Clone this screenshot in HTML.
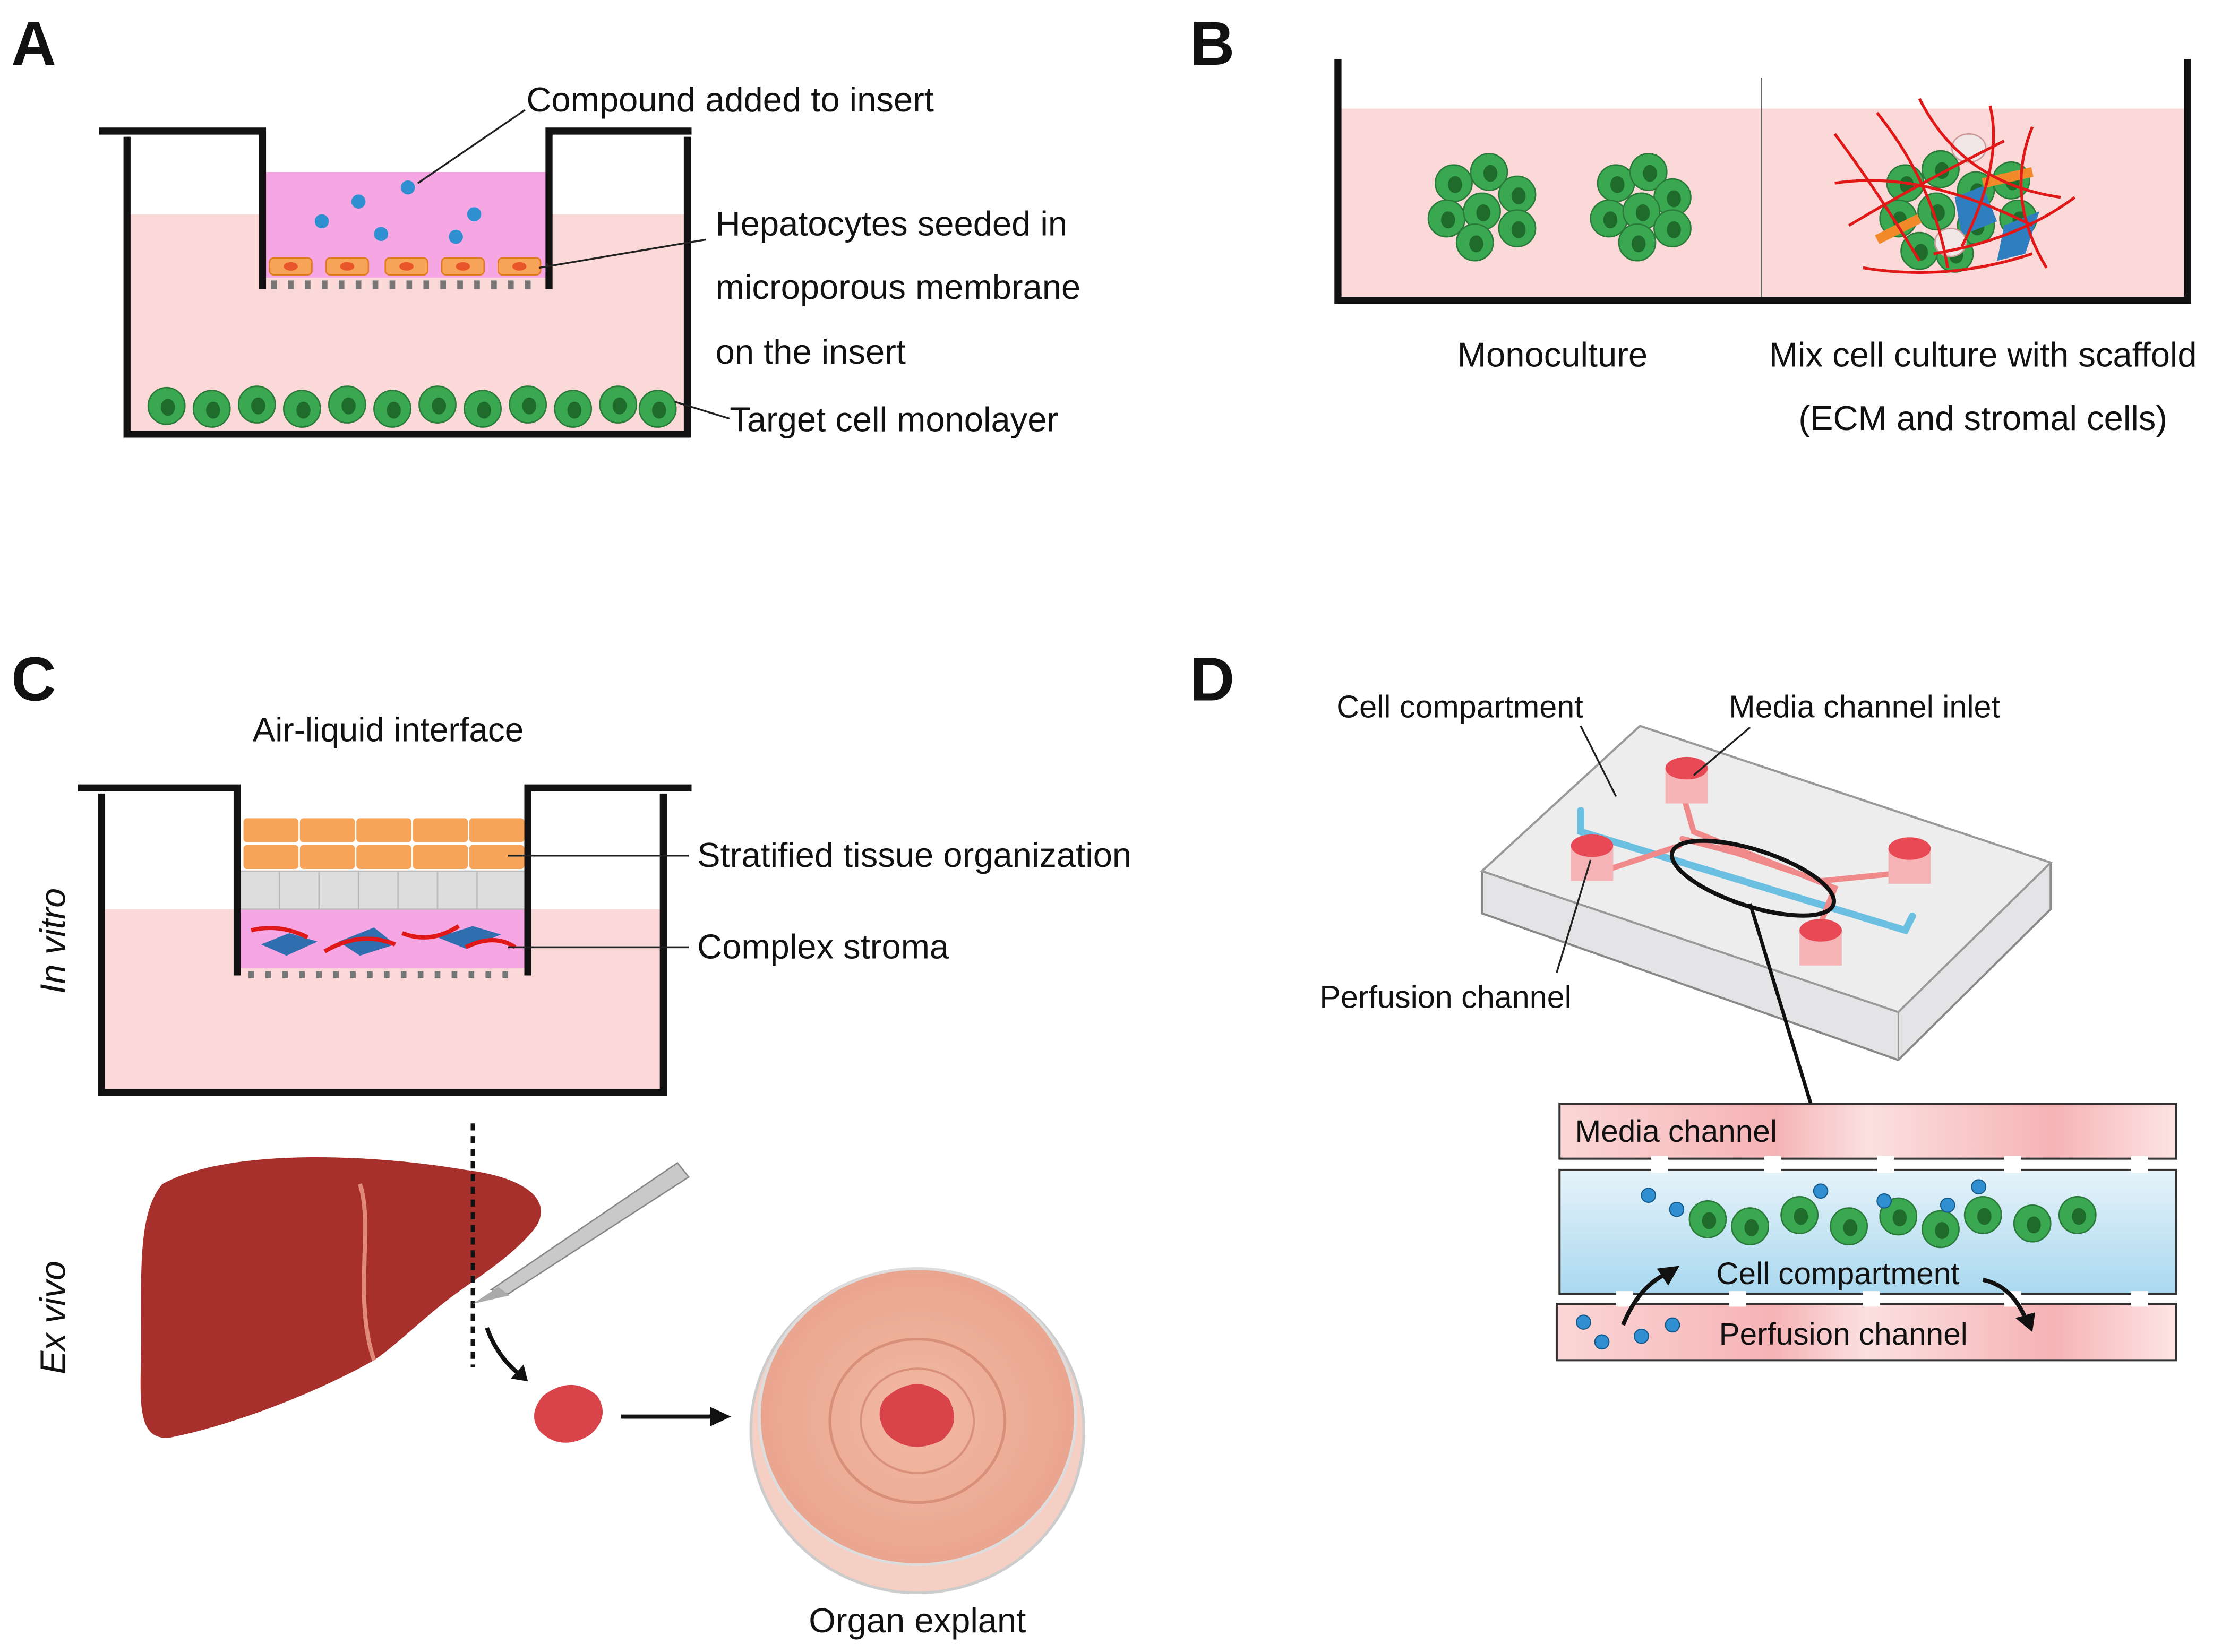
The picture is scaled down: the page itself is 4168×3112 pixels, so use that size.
<!DOCTYPE html>
<html><head><meta charset="utf-8"><style>
html,body{margin:0;padding:0;background:#fff;}
svg{display:block;}
text{font-family:"Liberation Sans",Arial,sans-serif;fill:#111;}
</style></head><body>
<svg width="4168" height="3112" viewBox="0 0 1568 1172" preserveAspectRatio="none" xmlns="http://www.w3.org/2000/svg">
<defs>
<g id="gc"><circle r="13" fill="#3aa851"/><circle r="13" fill="none" stroke="#2a7a3a" stroke-width="1"/><ellipse cx="1" cy="1" rx="5" ry="6" fill="#1f6b2c"/></g>
<g id="oc"><rect x="-15" y="-6" width="30" height="12" rx="3" fill="#f7a458" stroke="#e07a20" stroke-width="1"/><ellipse rx="5" ry="3" fill="#e8552a"/></g>
<linearGradient id="mg" x1="0" x2="1"><stop offset="0" stop-color="#fbd6d6"/><stop offset="0.35" stop-color="#f6b3b6"/><stop offset="0.5" stop-color="#fbe0e0"/><stop offset="0.8" stop-color="#f6b3b6"/><stop offset="1" stop-color="#fde4e4"/></linearGradient>
<linearGradient id="bg" x1="0" y1="0" x2="0" y2="1"><stop offset="0" stop-color="#e6f3fa"/><stop offset="1" stop-color="#a9d8ef"/></linearGradient>
<radialGradient id="dish"><stop offset="0" stop-color="#f2b9a4"/><stop offset="1" stop-color="#eaa58f"/></radialGradient>
</defs>

<text x="8" y="46" font-size="44" font-weight="bold">A</text>
<text x="843" y="46" font-size="44" font-weight="bold">B</text>
<text x="8" y="497" font-size="44" font-weight="bold">C</text>
<text x="843" y="497" font-size="44" font-weight="bold">D</text>

<!-- Panel A -->
<rect x="92" y="152" width="394" height="155" fill="#fcd9d9"/>
<rect x="187" y="122" width="202" height="75" fill="#f6a6e3"/>
<g fill="#777"><rect x="192" y="199" width="4" height="6"/><rect x="204" y="199" width="4" height="6"/><rect x="216" y="199" width="4" height="6"/><rect x="228" y="199" width="4" height="6"/><rect x="240" y="199" width="4" height="6"/><rect x="252" y="199" width="4" height="6"/><rect x="264" y="199" width="4" height="6"/><rect x="276" y="199" width="4" height="6"/><rect x="288" y="199" width="4" height="6"/><rect x="300" y="199" width="4" height="6"/><rect x="312" y="199" width="4" height="6"/><rect x="324" y="199" width="4" height="6"/><rect x="336" y="199" width="4" height="6"/><rect x="348" y="199" width="4" height="6"/><rect x="360" y="199" width="4" height="6"/><rect x="372" y="199" width="4" height="6"/></g>
<use href="#oc" x="206" y="189"/><use href="#oc" x="246" y="189"/><use href="#oc" x="288" y="189"/><use href="#oc" x="328" y="189"/><use href="#oc" x="368" y="189"/>
<g fill="#2f8fd0"><circle cx="254" cy="143" r="5"/><circle cx="289" cy="133" r="5"/><circle cx="228" cy="157" r="5"/><circle cx="270" cy="166" r="5"/><circle cx="323" cy="168" r="5"/><circle cx="336" cy="152" r="5"/></g>
<g><use href="#gc" x="118" y="288"/><use href="#gc" x="150" y="290"/><use href="#gc" x="182" y="287"/><use href="#gc" x="214" y="290"/><use href="#gc" x="246" y="287"/><use href="#gc" x="278" y="290"/><use href="#gc" x="310" y="287"/><use href="#gc" x="342" y="290"/><use href="#gc" x="374" y="287"/><use href="#gc" x="406" y="290"/><use href="#gc" x="438" y="287"/><use href="#gc" x="466" y="290"/></g>
<g fill="none" stroke="#111" stroke-width="5">
<polyline points="70,93 186,93 186,205"/><polyline points="389,205 389,93 490,93"/>
<polyline points="90,97 90,308 487,308 487,97"/>
</g>
<g stroke="#222" stroke-width="1.3"><line x1="372" y1="78" x2="296" y2="130"/><line x1="500" y1="170" x2="382" y2="190"/><line x1="517" y1="297" x2="478" y2="285"/></g>
<g font-size="24.5"><text x="373" y="79">Compound added to insert</text><text x="507" y="167">Hepatocytes seeded in</text><text x="507" y="212">microporous membrane</text><text x="507" y="258">on the insert</text><text x="517" y="306">Target cell monolayer</text></g>

<!-- Panel B -->
<rect x="950" y="77" width="598" height="134" fill="#fcd9d9"/>
<line x1="1248" y1="55" x2="1248" y2="211" stroke="#666" stroke-width="1"/>
<g><use href="#gc" x="1030" y="130"/><use href="#gc" x="1055" y="122"/><use href="#gc" x="1075" y="138"/><use href="#gc" x="1025" y="155"/><use href="#gc" x="1050" y="150"/><use href="#gc" x="1075" y="162"/><use href="#gc" x="1045" y="172"/>
<use href="#gc" x="1145" y="130"/><use href="#gc" x="1168" y="122"/><use href="#gc" x="1185" y="140"/><use href="#gc" x="1140" y="155"/><use href="#gc" x="1163" y="150"/><use href="#gc" x="1185" y="162"/><use href="#gc" x="1160" y="172"/></g>
<g><use href="#gc" x="1350" y="130"/><use href="#gc" x="1375" y="120"/><use href="#gc" x="1400" y="135"/><use href="#gc" x="1425" y="128"/><use href="#gc" x="1345" y="155"/><use href="#gc" x="1372" y="150"/><use href="#gc" x="1400" y="160"/><use href="#gc" x="1430" y="155"/><use href="#gc" x="1385" y="180"/><use href="#gc" x="1360" y="178"/></g>
<path d="M1385,140 l20,-8 l10,25 l-25,10z" fill="#2f7fc0"/><path d="M1420,160 l25,-10 l-10,30 l-20,5z" fill="#2f7fc0"/>
<ellipse cx="1395" cy="105" rx="12" ry="10" fill="#f0e6e6" stroke="#c99" /><ellipse cx="1382" cy="172" rx="11" ry="10" fill="#f0e6e6" stroke="#c99"/>
<path d="M1330,170 l30,-15 M1405,130 l35,-8" stroke="#f28a2a" stroke-width="7"/>
<g fill="none" stroke="#e01818" stroke-width="2"><path d="M1300,95 q30,40 60,90"/><path d="M1310,160 q50,-30 110,-60"/><path d="M1330,80 q40,50 50,110"/><path d="M1440,90 q-20,50 10,100"/><path d="M1320,190 q60,10 120,-10"/><path d="M1360,70 q30,60 100,70"/><path d="M1470,140 q-40,30 -100,40"/><path d="M1410,75 q10,40 -20,100"/><path d="M1300,130 q60,-10 140,30"/></g>
<polyline points="948,42 948,213 1550,213 1550,42" fill="none" stroke="#111" stroke-width="5"/>
<g font-size="24.5" text-anchor="middle"><text x="1100" y="260">Monoculture</text><text x="1405" y="260">Mix cell culture with scaffold</text><text x="1405" y="305">(ECM and stromal cells)</text></g>

<!-- Panel C -->
<text x="275" y="526" font-size="24" text-anchor="middle">Air-liquid interface</text>
<rect x="74" y="645" width="394" height="128" fill="#fcd9d9"/>
<rect x="170" y="645" width="202" height="42" fill="#f6a6e3"/>
<rect x="170" y="618" width="202" height="27" fill="#ddd" stroke="#bbb"/>
<g stroke="#bbb"><line x1="198" y1="618" x2="198" y2="645"/><line x1="226" y1="618" x2="226" y2="645"/><line x1="254" y1="618" x2="254" y2="645"/><line x1="282" y1="618" x2="282" y2="645"/><line x1="310" y1="618" x2="310" y2="645"/><line x1="338" y1="618" x2="338" y2="645"/></g>
<g fill="#f7a458" stroke="#fff" stroke-width="1"><rect x="172" y="580" width="40" height="18" rx="3"/><rect x="212" y="580" width="40" height="18" rx="3"/><rect x="252" y="580" width="40" height="18" rx="3"/><rect x="292" y="580" width="40" height="18" rx="3"/><rect x="332" y="580" width="40" height="18" rx="3"/>
<rect x="172" y="599" width="40" height="18" rx="3"/><rect x="212" y="599" width="40" height="18" rx="3"/><rect x="252" y="599" width="40" height="18" rx="3"/><rect x="292" y="599" width="40" height="18" rx="3"/><rect x="332" y="599" width="40" height="18" rx="3"/></g>
<g fill="#2f6fb0"><path d="M185,670 l20,-8 l20,6 l-22,10z"/><path d="M240,668 l25,-10 l15,12 l-25,8z"/><path d="M310,665 l25,-8 l20,6 l-25,10z"/></g>
<g fill="none" stroke="#e01818" stroke-width="3"><path d="M178,660 q20,-5 40,5"/><path d="M230,675 q25,-15 50,-5"/><path d="M285,662 q20,8 40,-5"/><path d="M330,672 q20,-10 35,0"/></g>
<g fill="#777"><rect x="176" y="689" width="4" height="5"/><rect x="188" y="689" width="4" height="5"/><rect x="200" y="689" width="4" height="5"/><rect x="212" y="689" width="4" height="5"/><rect x="224" y="689" width="4" height="5"/><rect x="236" y="689" width="4" height="5"/><rect x="248" y="689" width="4" height="5"/><rect x="260" y="689" width="4" height="5"/><rect x="272" y="689" width="4" height="5"/><rect x="284" y="689" width="4" height="5"/><rect x="296" y="689" width="4" height="5"/><rect x="308" y="689" width="4" height="5"/><rect x="320" y="689" width="4" height="5"/><rect x="332" y="689" width="4" height="5"/><rect x="344" y="689" width="4" height="5"/><rect x="356" y="689" width="4" height="5"/></g>
<g fill="none" stroke="#111" stroke-width="5">
<polyline points="55,559 168,559 168,692"/><polyline points="374,692 374,559 490,559"/>
<polyline points="72,563 72,775 470,775 470,563"/></g>
<g stroke="#222" stroke-width="1.3"><line x1="360" y1="607" x2="488" y2="607"/><line x1="360" y1="672" x2="488" y2="672"/></g>
<g font-size="24.5"><text x="494" y="615">Stratified tissue organization</text><text x="494" y="680">Complex stroma</text></g>
<text font-size="25" font-style="italic" transform="translate(46,705) rotate(-90)">In vitro</text>
<text font-size="25" font-style="italic" transform="translate(46,975) rotate(-90)">Ex vivo</text>
<path d="M115,840 C160,815 260,818 330,830 C370,835 392,850 380,870 C365,890 340,905 320,920 C300,935 280,955 265,965 C230,985 170,1010 120,1020 C95,1022 100,990 100,950 C100,900 98,860 115,840Z" fill="#a8302c"/>
<path d="M255,840 C265,870 250,920 265,965" stroke="#e08a7a" stroke-width="3" fill="none"/>
<line x1="335" y1="797" x2="335" y2="970" stroke="#111" stroke-width="3" stroke-dasharray="5,4"/>
<path d="M348,915 L480,825 l8,10 L360,918 Z" fill="#c9c9c9" stroke="#888"/>
<path d="M335,925 l18,-12 l8,6 z" fill="#aaa"/>
<path d="M345,942 Q352,962 368,975" fill="none" stroke="#111" stroke-width="3"/><path d="M362,978 l12,2 l-3,-12z" fill="#111"/>
<path d="M385,990 q20,-15 38,0 q10,15 -5,28 q-20,12 -35,-2 q-10,-12 2,-26z" fill="#d8444a"/>
<line x1="440" y1="1005" x2="505" y2="1005" stroke="#111" stroke-width="3"/><path d="M518,1005 l-15,-7 v14z" fill="#111"/>
<ellipse cx="650" cy="1015" rx="118" ry="115" fill="#f5cfc4" stroke="#ccc" stroke-width="2"/>
<ellipse cx="650" cy="1005" rx="112" ry="105" fill="url(#dish)" stroke="#ddd" stroke-width="2"/>
<ellipse cx="650" cy="1008" rx="62" ry="58" fill="none" stroke="#d8907a" stroke-width="2"/>
<ellipse cx="650" cy="1008" rx="40" ry="37" fill="none" stroke="#d8907a" stroke-width="1.5"/>
<path d="M627,992 q23,-20 45,0 q10,18 -5,30 q-23,11 -39,-5 q-9,-14 -1,-25z" fill="#d8444a"/>
<text x="650" y="1158" font-size="24.5" text-anchor="middle">Organ explant</text>

<!-- Panel D chip -->
<polygon points="1050,618 1162,515 1453,612 1453,645 1345,752 1050,648" fill="#e4e4e6" stroke="#888" stroke-width="1.5"/>
<polygon points="1050,618 1162,515 1453,612 1345,718" fill="#ededee" stroke="#999" stroke-width="1.5"/>
<line x1="1345" y1="718" x2="1345" y2="752" stroke="#999"/>
<g fill="none" stroke-linecap="round">
<path d="M1120,575 L1120,590 L1350,660 L1355,650" stroke="#6bbfe0" stroke-width="5"/>
<path d="M1192,595 L1230,605 L1290,625 L1340,620" stroke="#f08a8a" stroke-width="4"/>
<path d="M1190,555 L1200,590 L1300,630 L1290,655" stroke="#f08a8a" stroke-width="4"/>
<path d="M1130,620 L1190,600" stroke="#f08a8a" stroke-width="4"/>
</g>
<g><rect x="1180" y="545" width="30" height="25" fill="#f6b3b6"/><ellipse cx="1195" cy="545" rx="15" ry="8" fill="#e84a55"/>
<rect x="1113" y="600" width="30" height="25" fill="#f6b3b6"/><ellipse cx="1128" cy="600" rx="15" ry="8" fill="#e84a55"/>
<rect x="1338" y="602" width="30" height="25" fill="#f6b3b6"/><ellipse cx="1353" cy="602" rx="15" ry="8" fill="#e84a55"/>
<rect x="1275" y="660" width="30" height="25" fill="#f6b3b6"/><ellipse cx="1290" cy="660" rx="15" ry="8" fill="#e84a55"/></g>
<ellipse cx="1242" cy="623" rx="60" ry="20" transform="rotate(18 1242 623)" fill="none" stroke="#111" stroke-width="3"/>
<g stroke="#222" stroke-width="1.3"><line x1="1120" y1="515" x2="1145" y2="565"/><line x1="1240" y1="516" x2="1200" y2="550"/><line x1="1103" y1="690" x2="1127" y2="610"/></g>
<line x1="1240" y1="641" x2="1283" y2="783" stroke="#111" stroke-width="2.5"/>
<g font-size="22.3"><text x="947" y="509">Cell compartment</text><text x="1225" y="509">Media channel inlet</text><text x="935" y="715">Perfusion channel</text></g>
<rect x="1105" y="783" width="437" height="39" fill="url(#mg)" stroke="#333" stroke-width="1.5"/>
<rect x="1105" y="830" width="437" height="88" fill="url(#bg)" stroke="#333" stroke-width="1.5"/>
<rect x="1103" y="925" width="439" height="40" fill="url(#mg)" stroke="#333" stroke-width="1.5"/>
<g fill="#fff"><rect x="1170" y="820" width="12" height="12"/><rect x="1250" y="820" width="12" height="12"/><rect x="1330" y="820" width="12" height="12"/><rect x="1420" y="820" width="12" height="12"/><rect x="1510" y="820" width="12" height="12"/>
<rect x="1145" y="916" width="12" height="11"/><rect x="1225" y="916" width="12" height="11"/><rect x="1320" y="916" width="12" height="11"/><rect x="1420" y="916" width="12" height="11"/><rect x="1510" y="916" width="12" height="11"/></g>
<g><use href="#gc" x="1210" y="865"/><use href="#gc" x="1240" y="870"/><use href="#gc" x="1275" y="862"/><use href="#gc" x="1310" y="870"/><use href="#gc" x="1345" y="863"/><use href="#gc" x="1375" y="872"/><use href="#gc" x="1405" y="862"/><use href="#gc" x="1440" y="868"/><use href="#gc" x="1472" y="862"/></g>
<g fill="#2f8fd0" stroke="#155a8a" stroke-width="0.8"><circle cx="1168" cy="848" r="5"/><circle cx="1188" cy="858" r="5"/><circle cx="1290" cy="845" r="5"/><circle cx="1335" cy="852" r="5"/><circle cx="1380" cy="855" r="5"/><circle cx="1402" cy="842" r="5"/><circle cx="1122" cy="938" r="5"/><circle cx="1135" cy="952" r="5"/><circle cx="1163" cy="948" r="5"/><circle cx="1185" cy="940" r="5"/></g>
<path d="M1150,940 Q1160,915 1178,905" fill="none" stroke="#111" stroke-width="3"/><path d="M1190,898 l-16,2 l8,12z" fill="#111"/>
<path d="M1405,908 Q1425,912 1435,935" fill="none" stroke="#111" stroke-width="3"/><path d="M1440,945 l-12,-10 l14,-4z" fill="#111"/>
<g font-size="22"><text x="1116" y="810">Media channel</text><text x="1216" y="911">Cell compartment</text><text x="1218" y="954">Perfusion channel</text></g>
</svg>
</body></html>
